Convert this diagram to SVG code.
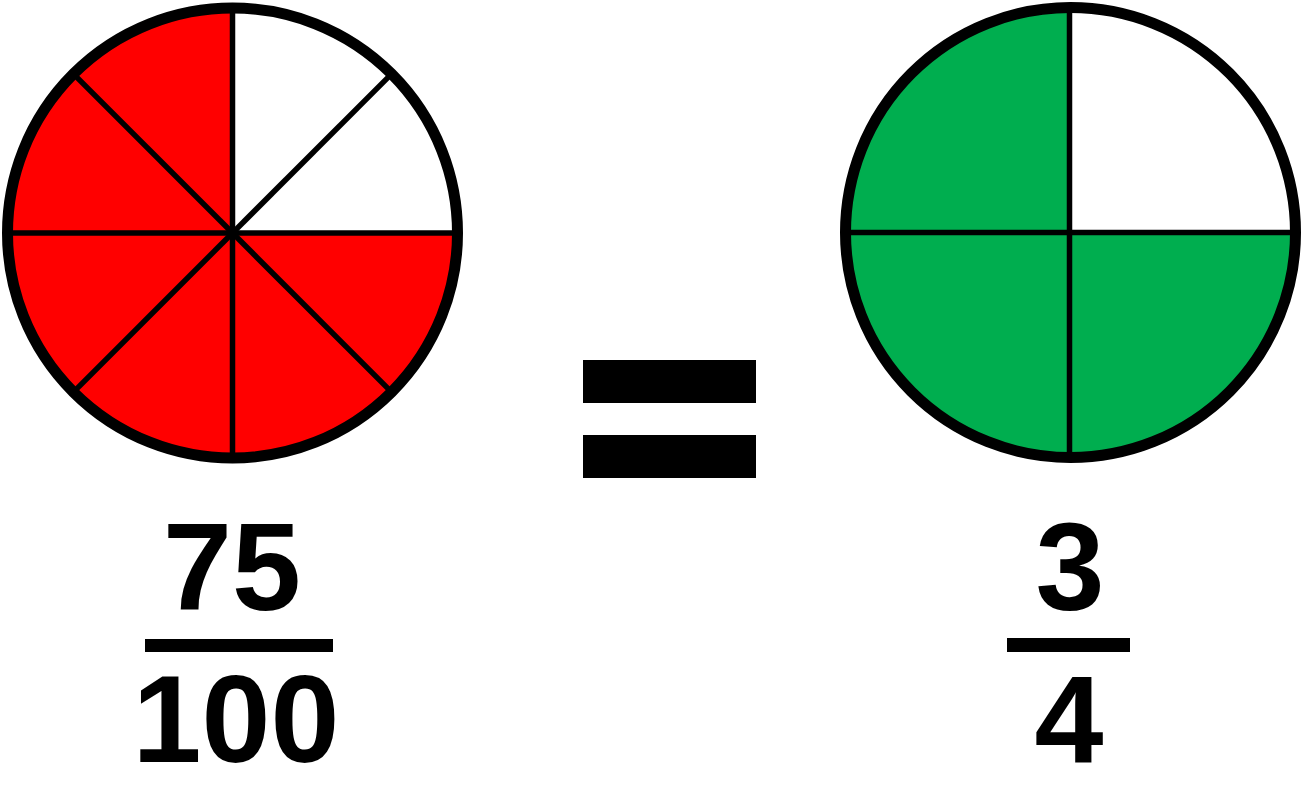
<svg xmlns="http://www.w3.org/2000/svg" width="1303" height="801" viewBox="0 0 1303 801">
<style>
.rim{fill:none;stroke:#000;stroke-width:11}
.div{stroke:#000;stroke-width:5.5;stroke-linecap:butt}
.num{font-family:"Liberation Sans",Arial,sans-serif;font-weight:bold;font-size:124px;text-anchor:middle;fill:#000}
.bar{fill:#000}
</style>
<rect width="1303" height="801" fill="#fff"/>
<g id="pie-eighths">
<circle cx="232.5" cy="233" r="225" fill="#ff0000"/>
<path d="M232.5,233 L232.5,8 A225,225 0 0 1 457.5,233 Z" fill="#fff"/>
<line class="div" x1="232.5" y1="8" x2="232.5" y2="458"/>
<line class="div" x1="7.5" y1="233" x2="457.5" y2="233"/>
<line class="div" x1="73.4" y1="73.9" x2="391.6" y2="392.1"/>
<line class="div" x1="391.6" y1="73.9" x2="73.4" y2="392.1"/>
<circle class="rim" cx="232.5" cy="233" r="225"/>
</g>
<g id="pie-quarters">
<circle cx="1070.5" cy="232.5" r="225" fill="#00ae4f"/>
<path d="M1070.5,232.5 L1070.5,7.5 A225,225 0 0 1 1295.5,232.5 Z" fill="#fff"/>
<line class="div" x1="1069.5" y1="7.5" x2="1069.5" y2="457.5"/>
<line class="div" x1="845.5" y1="232.5" x2="1295.5" y2="232.5"/>
<circle class="rim" cx="1070.5" cy="232.5" r="225"/>
</g>
<g id="equals">
<rect class="bar" x="583" y="360" width="173" height="43"/>
<rect class="bar" x="583" y="435" width="173" height="43"/>
</g>
<g id="fraction-75-100">
<text class="num" x="232" y="610">75</text>
<rect class="bar" x="145" y="639" width="188" height="13"/>
<text class="num" x="236" y="762">100</text>
</g>
<g id="fraction-3-4">
<text class="num" x="1070" y="610">3</text>
<rect class="bar" x="1007" y="638" width="123" height="14"/>
<text class="num" x="1069" y="762">4</text>
</g>
<g id="connectors"></g>
</svg>
